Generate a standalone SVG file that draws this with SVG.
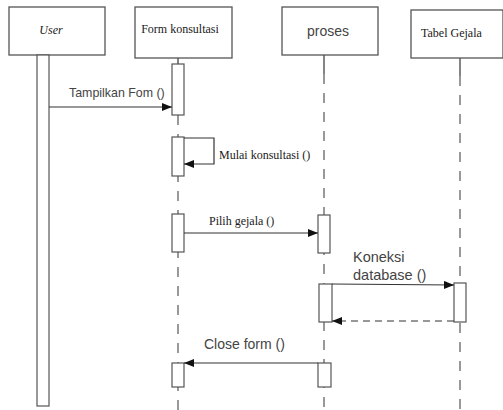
<svg xmlns="http://www.w3.org/2000/svg" width="503" height="410" viewBox="0 0 503 410">
<style>
.box{fill:#fff;stroke:#555;stroke-width:1.3}
.act{fill:#fff;stroke:#555;stroke-width:1.2}
.life{stroke:#555;stroke-width:1.2;stroke-dasharray:10 9;fill:none}
.msg{stroke:#333;stroke-width:1.2;fill:none}
.ret{stroke:#333;stroke-width:1.2;fill:none;stroke-dasharray:7 5}
.serif{font-family:"Liberation Serif","Times New Roman",serif;font-size:12px;fill:#1a1a1a}
.sans{font-family:"Liberation Sans",Arial,sans-serif;fill:#444}
</style>
<defs>
<marker id="ah" viewBox="0 0 10 8" refX="10" refY="4" markerWidth="10" markerHeight="8" markerUnits="userSpaceOnUse" orient="auto">
<path d="M0,0 L10,4 L0,8 Z" fill="#111"/>
</marker>
</defs>
<rect width="503" height="410" fill="#fff"/>
<g id="lifelines">
<line class="life" x1="178" y1="115" x2="178" y2="410"/>
<line class="life" x1="324" y1="74" x2="324" y2="410"/>
<line class="life" x1="460" y1="76" x2="460" y2="410"/>
<line class="msg" x1="178" y1="58" x2="178" y2="64"/>
<line class="msg" x1="324" y1="55" x2="324" y2="74"/>
<line class="msg" x1="460" y1="58" x2="460" y2="76"/>
</g>
<g id="user">
<rect class="box" x="9" y="7" width="96" height="48"/>
<text x="51" y="34" text-anchor="middle" class="serif" font-size="13" font-style="italic" fill="#445">User</text>
<rect class="act" x="37" y="55" width="12" height="351"/>
</g>
<g id="form">
<rect class="box" x="135" y="7" width="97" height="51"/>
<text x="180" y="33" text-anchor="middle" class="serif" font-size="13.5">Form konsultasi</text>
<rect class="act" x="172" y="64" width="12" height="51"/>
<rect class="act" x="172" y="137" width="12" height="39"/>
<rect class="act" x="172" y="214" width="12" height="38"/>
<rect class="act" x="172" y="363" width="12" height="24"/>
</g>
<g id="proses">
<rect class="box" x="282" y="7" width="96" height="48"/>
<text x="328" y="36" text-anchor="middle" class="sans" font-size="14">proses</text>
<rect class="act" x="318" y="215" width="12" height="38"/>
<rect class="act" x="319" y="284" width="13" height="38"/>
<rect class="act" x="318" y="363" width="13" height="24"/>
</g>
<g id="tabel">
<rect class="box" x="411" y="10" width="92" height="48"/>
<text x="421" y="37" class="serif" font-size="13.5">Tabel Gejala</text>
<rect class="act" x="454" y="283" width="12" height="39"/>
</g>
<g id="connectors">
<line class="msg" x1="49" y1="107" x2="172" y2="107" marker-end="url(#ah)"/>
<text x="69" y="97" class="sans" font-size="12.4">Tampilkan Fom ()</text>
<polyline class="msg" points="184,138 214,138 214,164 184,164" marker-end="url(#ah)"/>
<text x="219" y="159" class="serif" font-size="12.5">Mulai konsultasi ()</text>
<line class="msg" x1="184" y1="233" x2="318" y2="233" marker-end="url(#ah)"/>
<text x="209" y="225" class="serif">Pilih gejala ()</text>
<line class="msg" x1="332" y1="284" x2="454" y2="285" marker-end="url(#ah)"/>
<text x="353" y="262" class="sans" font-size="14.5">Koneksi</text>
<text x="353" y="280" class="sans" font-size="14.5">database ()</text>
<line class="ret" x1="454" y1="321" x2="332" y2="321" marker-end="url(#ah)"/>
<line class="msg" x1="318" y1="363" x2="184" y2="363" marker-end="url(#ah)"/>
<text x="204" y="349" class="sans" font-size="14">Close form ()</text>
</g>
</svg>
